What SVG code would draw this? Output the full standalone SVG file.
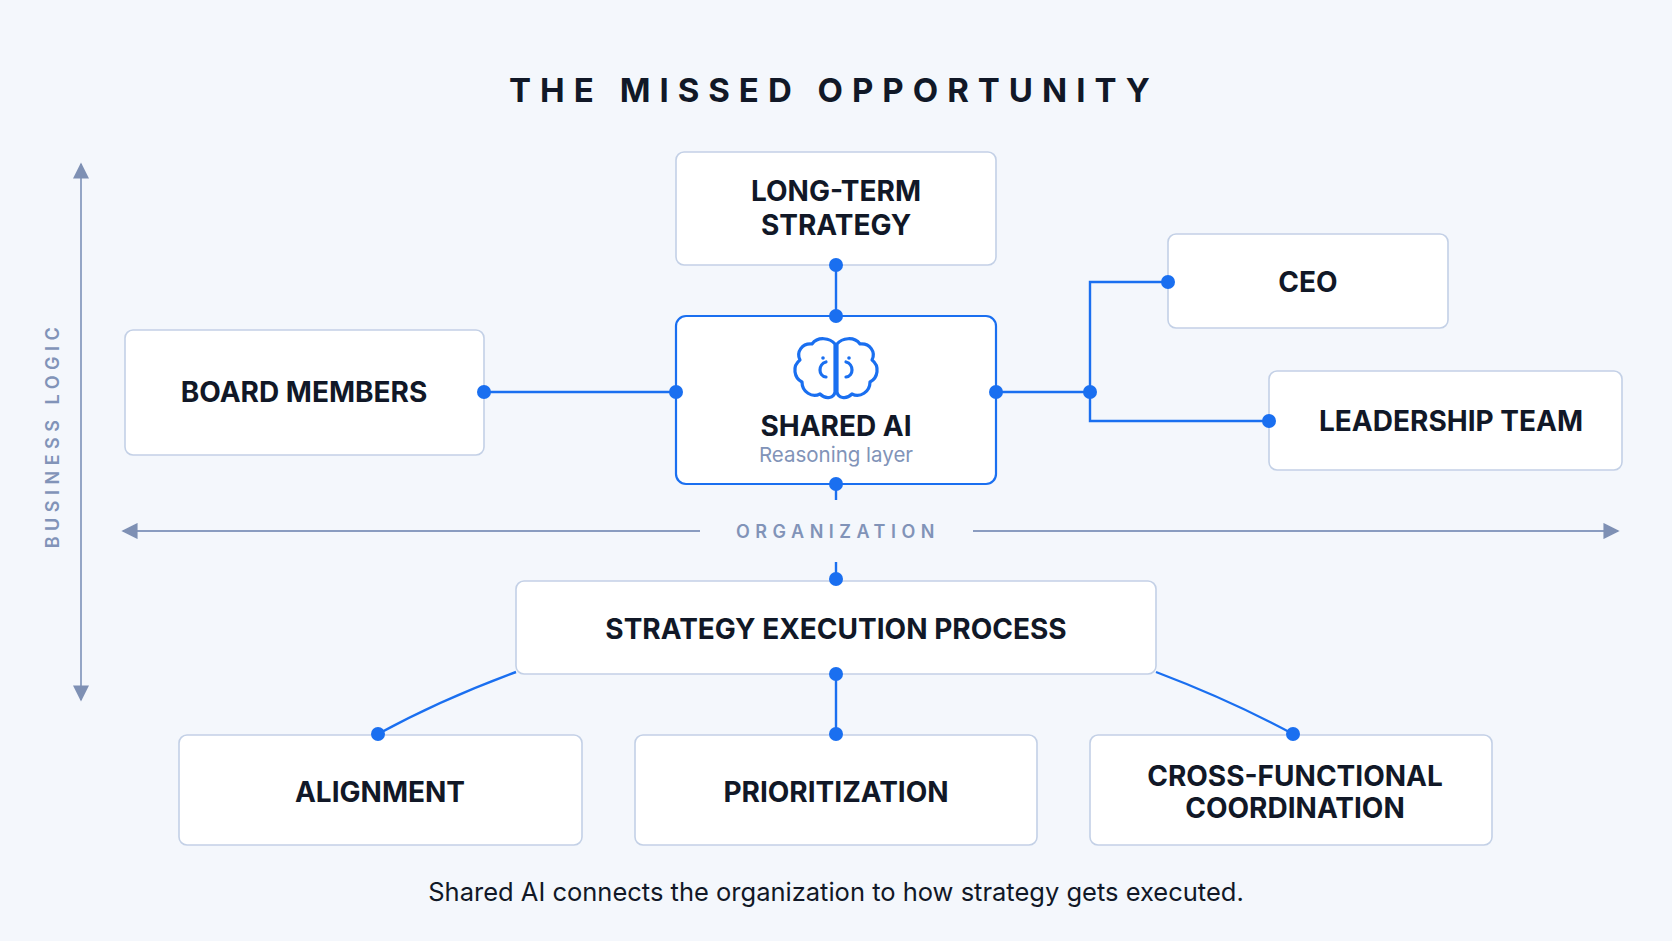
<svg xmlns="http://www.w3.org/2000/svg" width="1672" height="941" viewBox="0 0 1672 941">
<defs>
<style>
.box{fill:#fff;stroke:#c3d0e6;stroke-width:1.6}
.lbl{font-family:Inter,"Noto Sans",sans-serif;font-weight:700;font-size:28px;fill:#111827;text-anchor:middle}
.ln{stroke:#1a6ff0;stroke-width:2.4;fill:none}
.dot{fill:#1a6ff0}
.ax{stroke:#8a9cc0;stroke-width:1.8;fill:none}
.axt{font-family:Inter,"Noto Sans",sans-serif;font-weight:600;font-size:18px;fill:#8193b8;letter-spacing:5.5px;text-anchor:middle}
</style>
<marker id="ah" viewBox="0 0 10 10" refX="9" refY="5" markerWidth="9" markerHeight="9" orient="auto-start-reverse"><path d="M0,0 L10,5 L0,10 z" fill="#7e90b4"/></marker>
</defs>
<rect width="1672" height="941" fill="#f4f7fc"/>
<text x="834" y="102" font-family="Inter,'Noto Sans',sans-serif" font-weight="700" font-size="33" fill="#111827" text-anchor="middle" letter-spacing="9">THE MISSED OPPORTUNITY</text>
<g id="axes">
<line class="ax" x1="81" y1="164" x2="81" y2="700" marker-start="url(#ah)" marker-end="url(#ah)"/>
<text class="axt" transform="translate(59,435) rotate(-90)">BUSINESS LOGIC</text>
<line class="ax" x1="123" y1="531" x2="700" y2="531" marker-start="url(#ah)"/>
<line class="ax" x1="973" y1="531" x2="1618" y2="531" marker-end="url(#ah)"/>
<text class="axt" x="838" y="538">ORGANIZATION</text>
</g>
<g id="connectors">
<line class="ln" x1="836" y1="265" x2="836" y2="316"/>
<line class="ln" x1="484" y1="392" x2="676" y2="392"/>
<line class="ln" x1="996" y1="392" x2="1090" y2="392"/>
<polyline class="ln" points="1168,282 1090,282 1090,421 1269,421"/>
<line class="ln" x1="836" y1="484" x2="836" y2="500"/>
<line class="ln" x1="836" y1="562" x2="836" y2="581"/>
<line class="ln" x1="836" y1="674" x2="836" y2="734"/>
<path class="ln" d="M516,672 Q440,700 378,734"/>
<path class="ln" d="M1156,672 Q1230,700 1293,734"/>
</g>
<g id="long-term"><rect class="box" x="676" y="152" width="320" height="113" rx="8"/><text class="lbl" x="836" y="201">LONG-TERM</text><text class="lbl" x="836" y="235">STRATEGY</text></g>
<g id="shared-ai"><rect x="676" y="316" width="320" height="168" rx="10" fill="#fff" stroke="#1a6ff0" stroke-width="2.2"/>
<g fill="none" stroke="#1a6ff0" stroke-width="3.2" stroke-linecap="round" stroke-linejoin="round">
<path d="M835,344 C830,338 818,336 812,344 C802,343 796,352 800,360 C792,366 794,378 802,382 C802,392 812,398 820,394 C826,400 834,398 835,392 Z"/>
<path d="M837,344 C842,338 854,336 860,344 C870,343 876,352 872,360 C880,366 878,378 870,382 C870,392 860,398 852,394 C846,400 838,398 837,392 Z"/>
<path d="M826,362 C818,364 818,376 826,377"/><path d="M846,362 C854,364 854,376 846,377"/>
</g>
<circle cx="823" cy="358" r="1.8" fill="#1a6ff0"/><circle cx="849" cy="358" r="1.8" fill="#1a6ff0"/>
<text class="lbl" x="836" y="436">SHARED AI</text>
<text x="836" y="462" font-family="Inter,'Noto Sans',sans-serif" font-size="20.5" fill="#8193b8" text-anchor="middle">Reasoning layer</text></g>
<g id="board"><rect class="box" x="125" y="330" width="359" height="125" rx="8"/><text class="lbl" x="304" y="402">BOARD MEMBERS</text></g>
<g id="ceo"><rect class="box" x="1168" y="234" width="280" height="94" rx="8"/><text class="lbl" x="1308" y="292">CEO</text></g>
<g id="leadership"><rect class="box" x="1269" y="371" width="353" height="99" rx="8"/><text class="lbl" x="1451" y="431">LEADERSHIP TEAM</text></g>
<g id="exec"><rect class="box" x="516" y="581" width="640" height="93" rx="8"/><text class="lbl" x="836" y="639">STRATEGY EXECUTION PROCESS</text></g>
<g id="alignment"><rect class="box" x="179" y="735" width="403" height="110" rx="8"/><text class="lbl" x="380" y="802">ALIGNMENT</text></g>
<g id="prioritization"><rect class="box" x="635" y="735" width="402" height="110" rx="8"/><text class="lbl" x="836" y="802">PRIORITIZATION</text></g>
<g id="cross"><rect class="box" x="1090" y="735" width="402" height="110" rx="8"/><text class="lbl" x="1295" y="786">CROSS-FUNCTIONAL</text><text class="lbl" x="1295" y="818">COORDINATION</text></g>
<g id="dots">
<circle class="dot" cx="836" cy="265" r="7"/><circle class="dot" cx="836" cy="316" r="7"/>
<circle class="dot" cx="484" cy="392" r="7"/><circle class="dot" cx="676" cy="392" r="7"/>
<circle class="dot" cx="996" cy="392" r="7"/><circle class="dot" cx="1090" cy="392" r="7"/>
<circle class="dot" cx="1168" cy="282" r="7"/><circle class="dot" cx="1269" cy="421" r="7"/>
<circle class="dot" cx="836" cy="484" r="7"/><circle class="dot" cx="836" cy="579" r="7"/>
<circle class="dot" cx="836" cy="674" r="7"/><circle class="dot" cx="836" cy="734" r="7"/>
<circle class="dot" cx="378" cy="734" r="7"/><circle class="dot" cx="1293" cy="734" r="7"/>
</g>
<text x="836" y="901" font-family="Inter,'Noto Sans',sans-serif" font-size="25.5" fill="#111827" text-anchor="middle">Shared AI connects the organization to how strategy gets executed.</text>
</svg>
